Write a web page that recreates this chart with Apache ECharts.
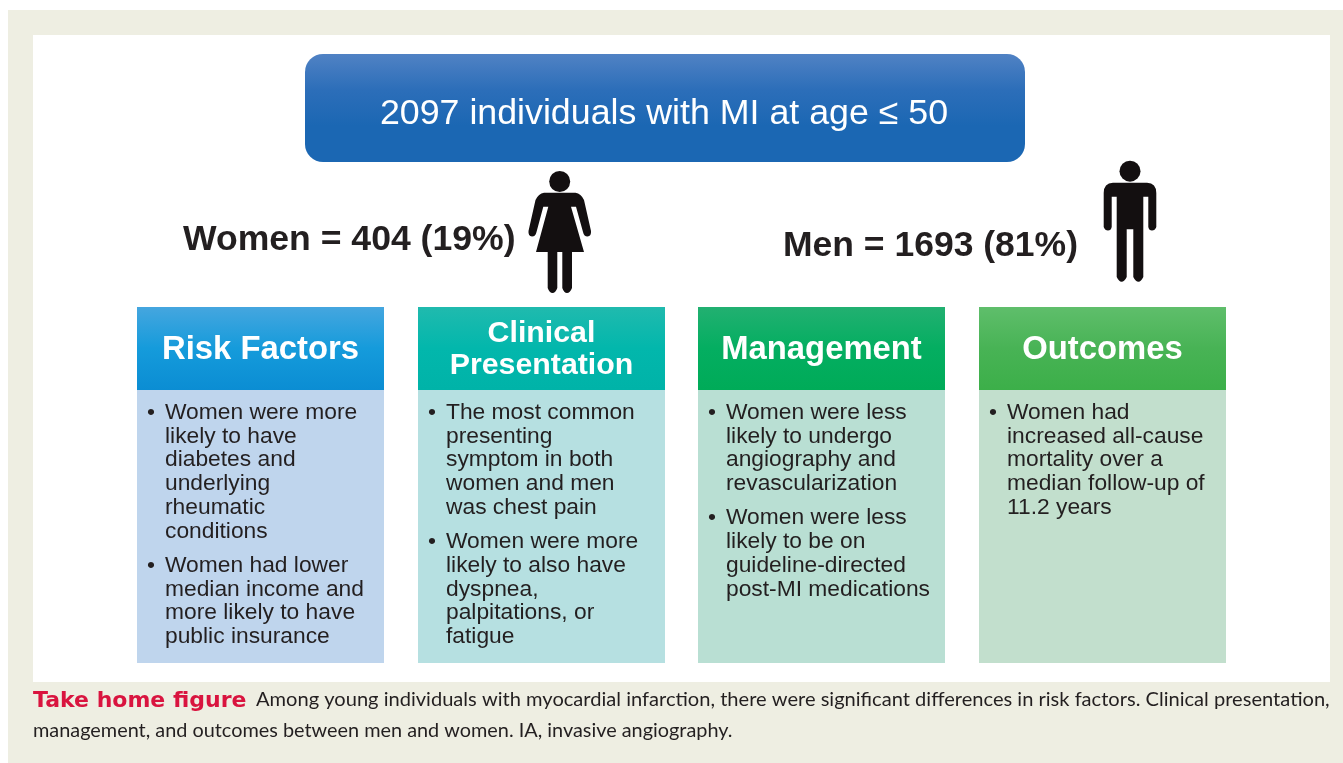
<!DOCTYPE html>
<html><head><meta charset="utf-8">
<style>html,body{margin:0;padding:0;background:#fff}#c{width:1343px;height:763px}</style>
<script src="https://cdn.jsdelivr.net/npm/echarts@6/dist/echarts.min.js"></script>
</head><body><div id="c"></div>
<script>
const titleText = '2097 individuals with MI at age ≤ 50';
const womenText = 'Women = 404 (19%)';
const menText = 'Men = 1693 (81%)';
const headers = [['Risk Factors'], ['Clinical', 'Presentation'], ['Management'], ['Outcomes']];
const riskFactors = [
  ['Women were more', 'likely to have', 'diabetes and', 'underlying', 'rheumatic', 'conditions'],
  ['Women had lower', 'median income and', 'more likely to have', 'public insurance']
];
const clinicalPresentation = [
  ['The most common', 'presenting', 'symptom in both', 'women and men', 'was chest pain'],
  ['Women were more', 'likely to also have', 'dyspnea,', 'palpitations, or', 'fatigue']
];
const management = [
  ['Women were less', 'likely to undergo', 'angiography and', 'revascularization'],
  ['Women were less', 'likely to be on', 'guideline-directed', 'post-MI medications']
];
const outcomes = [
  ['Women had', 'increased all-cause', 'mortality over a', 'median follow-up of', '11.2 years']
];
const columns = [riskFactors, clinicalPresentation, management, outcomes];
const captionLead = 'Take home figure';
const captionLine1 = 'Among young individuals with myocardial infarction, there were significant differences in risk factors. Clinical presentation,';
const captionLine2 = 'management, and outcomes between men and women. IA, invasive angiography.';

const columnX = [137, 418, 698, 979];
const headGrad = [['#45A6DF', '#159BDB', '#0B8DD3'], ['#20BAAE', '#02B7AC', '#00B3A8'], ['#22B071', '#04AE61', '#00AB58'], ['#5FBE6B', '#48B355', '#3CAF49']];
const bodyFill = ['#BFD5ED', '#B6E0E1', '#B9DFD3', '#C2DFCD'];
const sans = '"Liberation Sans", Arial, sans-serif';
const womanPath = 'M544 192.7 L575.5 192.7 Q581 193.5 584 200 L591 231 Q591.5 236 587.5 236.5 Q584 236.5 583 232 L576 206.7 L571 206.7 L584 252 L572 252 L572 288 Q570 293 567 293 Q564 293 562.3 288 L562.3 252 L557.3 252 L557.3 288 Q555.5 293 552.5 293 Q549.5 293 547.7 288 L547.7 252 L536 252 L548.3 206.7 L543.3 206.7 L536.5 232 Q535.5 236.5 532 236.5 Q528 236 528.5 231 L535.5 200 Q538.5 193.5 544 192.7 Z';
const manPath = 'M1113 182.7 L1147 182.7 Q1156.3 183 1156.3 193 L1156.3 227 Q1155 230.5 1152 230.5 Q1149 230.5 1148.3 227 L1148.3 196.7 L1143.3 196.7 L1143.3 277 Q1141 281.7 1138.5 281.7 Q1135.5 281.7 1133.3 277 L1133.3 229.3 L1126.7 229.3 L1126.7 277 Q1124.5 281.7 1121.5 281.7 Q1119 281.7 1116.7 277 L1116.7 196.7 L1111.7 196.7 L1111.7 227 Q1111 230.5 1108 230.5 Q1105 230.5 1103.7 227 L1103.7 193 Q1103.7 183 1113 182.7 Z';

echarts.graphic.registerShape('figureOutline', echarts.graphic.extendShape({
  shape: { d: '' },
  buildPath(ctx, s) {
    (s.d.match(/[MLQZ][^MLQZ]*/g) || []).forEach((seg) => {
      const a = seg.slice(1).trim().split(/\s+/).map(Number);
      if (seg[0] === 'M') ctx.moveTo(a[0], a[1]);
      else if (seg[0] === 'L') ctx.lineTo(a[0], a[1]);
      else if (seg[0] === 'Q') ctx.quadraticCurveTo(a[0], a[1], a[2], a[3]);
      else ctx.closePath();
    });
  }
}));

function grad(stops) {
  return { type: 'linear', x: 0, y: 0, x2: 0, y2: 1,
    colorStops: stops.map((c, i) => ({ offset: i / (stops.length - 1), color: c })) };
}
function txt(x, y, text, font, fill, align, weight) {
  return { type: 'text', x, y, silent: true, style: { text, x: 0, y: 0, fill, align: align || 'left', verticalAlign: 'middle',
    font: (weight || 'normal') + ' ' + font } };
}
const els = [];
els.push({ type: 'rect', shape: { x: 8, y: 10, width: 1335, height: 753 }, style: { fill: '#EEEEE2' } });
els.push({ type: 'rect', shape: { x: 33, y: 35, width: 1297, height: 647 }, style: { fill: '#FFFFFF' } });
els.push({ type: 'rect', shape: { x: 305, y: 54, width: 720, height: 108, r: 18 }, style: { fill: grad(['#5082C4', '#2C6EB9', '#1B67B3', '#1B67B3']) } });
els.push(txt(664, 114.5, titleText, '35.75px ' + sans, '#FFFFFF', 'center'));
els.push(txt(183, 240.5, womenText, '35.6px ' + sans, '#231F20', 'left', 'bold'));
els.push(txt(783, 246, menText, '35.5px ' + sans, '#231F20', 'left', 'bold'));

// figures
const ink = '#130F10';
els.push({ type: 'circle', shape: { cx: 559.7, cy: 181.5, r: 10.5 }, style: { fill: ink } });
els.push({ type: 'figureOutline', shape: { d: womanPath }, style: { fill: ink } });
els.push({ type: 'circle', shape: { cx: 1130, cy: 171.2, r: 10.5 }, style: { fill: ink } });
els.push({ type: 'figureOutline', shape: { d: manPath }, style: { fill: ink } });

// panels
columns.forEach((bullets, i) => {
  const x = columnX[i], w = 247;
  els.push({ type: 'rect', shape: { x, y: 390, width: w, height: 273 }, style: { fill: bodyFill[i] } });
  els.push({ type: 'rect', shape: { x, y: 307, width: w, height: 83 }, style: { fill: grad(headGrad[i]) } });
  const h = headers[i];
  const twoLine = h.length > 1;
  const hy = twoLine ? [334, 366] : [349.5];
  const hSize = twoLine ? '30.3px ' : '32.8px ';
  h.forEach((t, k) => els.push(txt(x + w / 2, hy[k], t, hSize + sans, '#FFFFFF', 'center', 'bold')));
  let n = 0;
  bullets.forEach((lines, b) => {
    const by = 412.5 + 23.8 * n + 10.2 * b;
    els.push(txt(x + 14, by, '•', '22.8px ' + sans, '#231F20', 'center'));
    lines.forEach((t) => {
      els.push(txt(x + 28, 412.5 + 23.8 * n + 10.2 * b, t, '22.8px ' + sans, '#231F20'));
      n++;
    });
  });
});

// caption
els.push(txt(33, 701, captionLead, '22px "DejaVu Sans", sans-serif', '#D9143F', 'left', 'bold'));
els.push(txt(256, 700, captionLine1, '20.08px Lato, sans-serif', '#231F20'));
els.push(txt(33, 731, captionLine2, '19.88px Lato, sans-serif', '#231F20'));

const chart = echarts.init(document.getElementById('c'), null, { renderer: 'canvas' });
chart.setOption({ animation: false, backgroundColor: '#FFFFFF', graphic: { elements: els } });
</script></body></html>
